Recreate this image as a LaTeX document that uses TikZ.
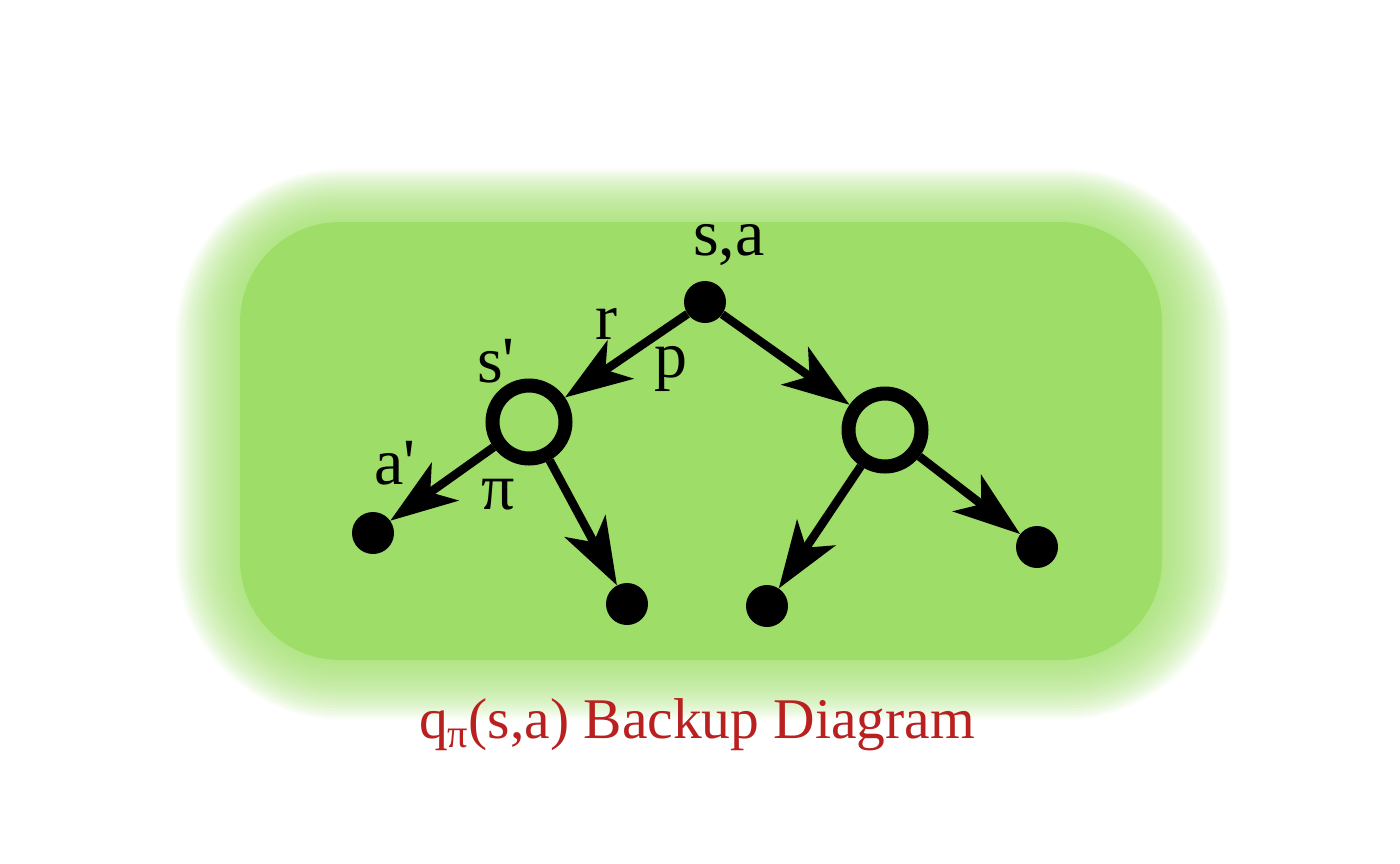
\documentclass[tikz,border=0pt]{standalone}
\usepackage{fontspec}
\setmainfont{Liberation Serif}
\newfontfamily\labfont{Liberation Serif}
\usetikzlibrary{arrows.meta}
\definecolor{bggreen}{RGB}{158,222,104}
\definecolor{titlered}{RGB}{185,32,32}
\begin{document}
\begin{tikzpicture}[x=1pt,y=-1pt,
  dot/.style={circle,fill=black,inner sep=0pt,minimum size=42pt},
  ring/.style={circle,draw=black,line width=14pt,inner sep=0pt,minimum size=73pt},
  edge/.style={line width=8.5pt,-{Stealth[length=67pt,width=46pt,inset=18pt]}},
  lab/.style={font=\labfont\fontsize{66}{70}\selectfont,inner sep=0pt,anchor=base}]
\useasboundingbox (0,0) rectangle (1400,863);
% glow
\foreach \i in {1,...,22}{
  \fill[bggreen,opacity=0.065,rounded corners={100pt+3pt*\i}]
    ({240-2.9*\i},{222-2.4*\i}) rectangle ({1162+3.1*\i},{660+2.7*\i});
}
\fill[bggreen,rounded corners=100pt] (240,222) rectangle (1162,660);
% nodes
\node[dot] (root) at (705,302) {};
\node[ring] (sp) at (529,422) {};
\node[ring] (sq) at (885,430) {};
\node[dot] (l1) at (373,533) {};
\node[dot] (l2) at (627,604) {};
\node[dot] (l3) at (767,606) {};
\node[dot] (l4) at (1037,547) {};
% edges
\draw[edge] (root) -- (sp);
\draw[edge] (root) -- (sq);
\draw[edge] (sp) -- (l1);
\draw[edge] (sp) -- (l2);
\draw[edge] (sq) -- (l3);
\draw[edge] (sq) -- (l4);
% labels
\node[lab] (tsa) at (729,255) {s,a};
\node[lab] (tr) at (606,339) {r};
\node[lab] (tp) at (671,377) {p};
\node[lab] (tsp) at (496,382) {s'};
\node[lab] (tap) at (395,484) {a'};
\node[lab] (tpi) at (498,509) {π};
\node[anchor=base,inner sep=0pt,text=titlered,font=\fontsize{57.5}{62}\selectfont] (title) at (697,738) {q\textsubscript{π}(s,a) Backup Diagram};
\end{tikzpicture}
\end{document}
